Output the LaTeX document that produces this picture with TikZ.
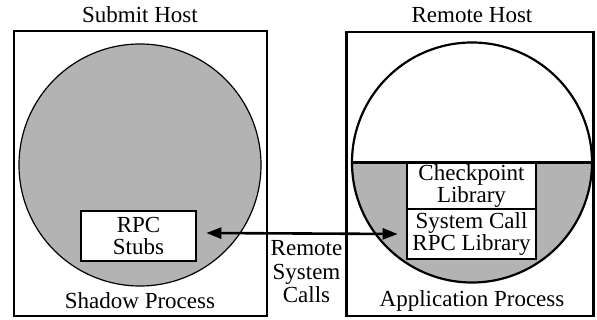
\documentclass[tikz,border=0pt]{standalone}
\usepackage{fontspec}
\setmainfont{Liberation Serif}
\usetikzlibrary{arrows.meta}
\definecolor{procgray}{RGB}{179,179,179}
\begin{document}
\begin{tikzpicture}[x=1pt,y=-1pt,
  hostbox/.style={draw, line width=2.6pt, inner sep=0pt},
  libbox/.style={draw, fill=white, line width=2.6pt, inner sep=0pt, align=center, font=\fontsize{23}{22.5}\selectfont},
  lbl/.style={inner sep=0pt, align=center, font=\fontsize{23}{23.5}\selectfont},
  link/.style={line width=2.6pt, {Triangle[length=15pt,width=11pt]}-{Triangle[length=15pt,width=11pt]}}]
\useasboundingbox (0,0) rectangle (597,320);
% hosts
\node[hostbox, minimum width=253pt, minimum height=285pt] (lhost) at (140.5,173.5) {};
\node[hostbox, minimum width=247pt, minimum height=284pt] (rhost) at (470,174) {};
% shadow process circle
\node[circle, draw, fill=procgray, line width=1.2pt, minimum size=242pt, inner sep=0pt] (lc) at (140,165) {};
% application process circle
\coordinate (rcc) at (472,162.5);
\begin{scope}
  \clip (340,162.5) rectangle (600,300);
  \fill[procgray] (rcc) circle[radius=120pt];
\end{scope}
\node[circle, draw, line width=2.2pt, minimum size=240pt, inner sep=0pt] (rc) at (rcc) {};
\draw[line width=2.2pt] (rc.west) -- (rc.east);
% boxes
\node[libbox, minimum width=115pt, minimum height=50pt] (rpc) at (138.5,236) {RPC\\Stubs};
\node[libbox, minimum width=129pt, minimum height=46pt] (ckpt) at (471.5,186) {Checkpoint\\Library};
\node[libbox, minimum width=129pt, minimum height=50pt] (sys) at (471.5,234) {System Call\\RPC Library};
% labels
\node[lbl] (submit) at (140,15) {Submit Host};
\node[lbl] (remote) at (472,15) {Remote Host};
\node[lbl] (shadow) at (140,301) {Shadow Process};
\node[lbl] (app) at (472,301) {Application Process};
\node[lbl] (rsc) at (306.5,272) {Remote\\System\\Calls};
% connector
\draw[link] ([xshift=9pt,yshift=3pt]rpc.east) -- ([xshift=-8pt]sys.west);
\end{tikzpicture}
\end{document}
